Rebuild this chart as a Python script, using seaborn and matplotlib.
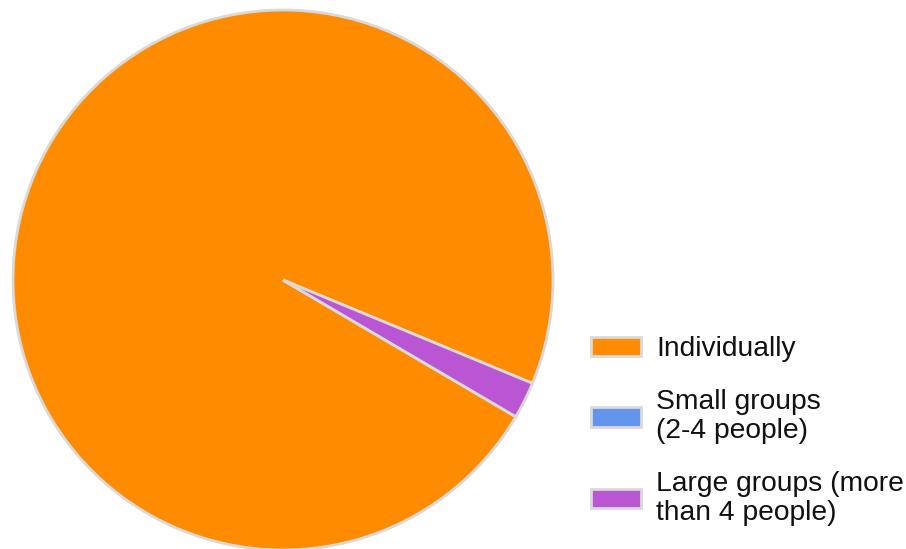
import seaborn as sns
import matplotlib.pyplot as plt

labels = ["Individually", "Small groups\n(2-4 people)", "Large groups (more\nthan 4 people)"]
shares = [97.8, 0.0, 2.2]
colors = ["#FF8C00", "#6495ED", "#BA55D3"]

sns.set_theme(style="white")
plt.rcParams['font.family'] = ['Liberation Sans', 'DejaVu Sans']

fig = plt.figure(figsize=(9.06, 5.49), dpi=100)
ax = fig.add_axes([13 / 906, (549 - 280 - 270) / 549, 540 / 906, 540 / 549])
wedges, _ = ax.pie(shares, colors=sns.color_palette(colors), startangle=-22.5,
                   counterclock=True,
                   wedgeprops=dict(edgecolor="#D9D9D9", linewidth=2))
ax.set_xlim(-1, 1)
ax.set_ylim(-1, 1)
ax.set_aspect("equal")
for w in wedges:
    w.set_clip_on(False)

leg = fig.legend(wedges, labels, loc="upper left", bbox_to_anchor=(566 / 906, 1 - 311 / 549),
                 frameon=False, fontsize=20.3, handlelength=1.75, handleheight=0.7,
                 handletextpad=0.55, labelspacing=0.95)
for t in leg.get_texts():
    t.set_linespacing(1.15)
    t.set_color("#111111")

fig.savefig("out.png", dpi=100)
